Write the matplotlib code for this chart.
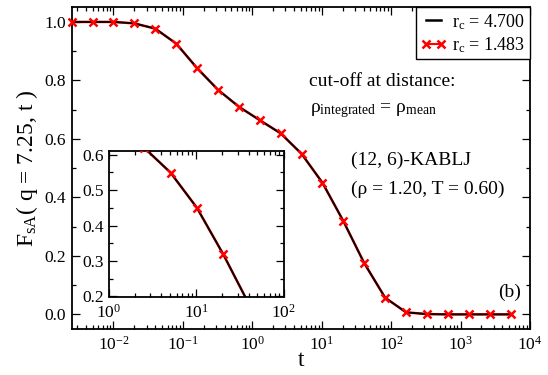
import numpy as np
import matplotlib
matplotlib.use("Agg")
import matplotlib.pyplot as plt
from matplotlib.ticker import LogLocator, MultipleLocator, NullFormatter, FixedLocator
from matplotlib.lines import Line2D

plt.rcParams['font.family'] = ['Liberation Serif', 'DejaVu Serif']
plt.rcParams['mathtext.fontset'] = 'custom'
plt.rcParams['mathtext.rm'] = 'Liberation Serif'
plt.rcParams['mathtext.it'] = 'Liberation Serif'
plt.rcParams['mathtext.default'] = 'regular'

# data
t_vals = [0.0025, 0.005, 0.01, 0.02, 0.04, 0.08, 0.16, 0.32, 0.64, 1.28, 2.56,
          5.12, 10.24, 20.48, 40.96, 81.92, 163.84, 327.68, 655.36, 1310.72,
          2621.44, 5242.88]
fs_rc4700 = [1.0, 1.0, 1.0, 0.995, 0.977, 0.926, 0.842, 0.768, 0.710, 0.664,
             0.619, 0.549, 0.450, 0.319, 0.175, 0.057, 0.007, 0.001, 0.0, 0.0,
             0.0, 0.0]
fs_rc1483 = [1.0, 1.0, 1.0, 0.995, 0.977, 0.926, 0.842, 0.768, 0.710, 0.664,
             0.619, 0.549, 0.450, 0.319, 0.175, 0.057, 0.007, 0.001, 0.0, 0.0,
             0.0, 0.0]
legend_labels = ["r$_c$ = 4.700", "r$_c$ = 1.483"]
xtick_vals = [1e-2, 1e-1, 1e0, 1e1, 1e2, 1e3, 1e4]
xtick_labels = ["$10^{-2}$", "$10^{-1}$", "$10^{0}$", "$10^{1}$", "$10^{2}$",
                "$10^{3}$", "$10^{4}$"]
inset_xticks = [1e0, 1e1, 1e2]
inset_xlabels = ["$10^{0}$", "$10^{1}$", "$10^{2}$"]

W, H = 548, 375
fig = plt.figure(figsize=(W / 100, H / 100), dpi=100)

ax = fig.add_axes([71.7 / W, 1 - 329 / H, (530 - 71.7) / W, (329 - 7.3) / H])


def style_axis(a, tick_fs):
    for s in a.spines.values():
        s.set_linewidth(1.3)
    a.tick_params(which='both', direction='in', top=True, right=True,
                  labelsize=tick_fs, width=0.9)
    a.tick_params(which='major', length=5.5)
    a.tick_params(which='minor', length=3)


red_kw = dict(color='red', lw=1.5, marker='x', ms=5.5, mew=1.8)

ax.plot(t_vals, fs_rc1483, color='red', lw=1.8, zorder=2)
ax.plot(t_vals, fs_rc4700, color='black', lw=1.3, zorder=3)
ax.plot(t_vals, fs_rc1483, ls='none', marker='x', color='red', ms=5.5, mew=1.8,
        zorder=4, clip_on=False)

ax.set_xscale('log')
ax.set_xlim(0.0025, 1e4)
ax.set_ylim(-0.05, 1.05)
ax.xaxis.set_major_locator(FixedLocator(xtick_vals))
ax.set_xticklabels(xtick_labels)
ax.xaxis.set_minor_locator(LogLocator(base=10, subs=np.arange(2, 10), numticks=20))
ax.xaxis.set_minor_formatter(NullFormatter())
ax.yaxis.set_major_locator(MultipleLocator(0.2))
ax.yaxis.set_minor_locator(MultipleLocator(0.1))
ax.set_yticks([0.0, 0.2, 0.4, 0.6, 0.8, 1.0])
ax.set_yticklabels(["0.0", "0.2", "0.4", "0.6", "0.8", "1.0"])
style_axis(ax, 12.5)
ax.tick_params(axis='x', pad=5)
ax.tick_params(axis='y', pad=4)

ax.set_xlabel("t", fontsize=17, labelpad=-3)
ax.set_ylabel("F$_{sA}$( q = 7.25, t )", fontsize=17, labelpad=3)

h1 = Line2D([], [], color='black', lw=1.8)
h2 = Line2D([], [], **red_kw)
leg = ax.legend([h1, h2], legend_labels, loc='upper right', borderaxespad=0,
                fontsize=13, numpoints=2, handlelength=1.4, handletextpad=0.35,
                labelspacing=0.2, borderpad=0.25, fancybox=False, framealpha=1,
                edgecolor='black')
leg.get_frame().set_linewidth(1.0)


def fx(px):
    return px / W


def fy(py):
    return 1 - py / H


fig.text(fx(309), fy(82), "cut-off at distance:", fontsize=14, va='center', ha='left')
fig.text(fx(310), fy(111), "ρ$_{integrated}$ = ρ$_{mean}$", fontsize=14, va='center', ha='left')
fig.text(fx(351), fy(160), "(12, 6)-KABLJ", fontsize=14, va='center', ha='left')
fig.text(fx(351), fy(189), "(ρ = 1.20, T = 0.60)", fontsize=14, va='center', ha='left')
fig.text(fx(509.5), fy(292), "(b)", fontsize=14, va='center', ha='center')

# inset
axi = fig.add_axes([108.5 / W, 1 - 296.5 / H, 175 / W, 145.5 / H])
axi.plot(t_vals, fs_rc1483, color='red', lw=1.8, zorder=2)
axi.plot(t_vals, fs_rc4700, color='black', lw=1.3, zorder=3)
axi.plot(t_vals, fs_rc1483, ls='none', marker='x', color='red', ms=5.5, mew=1.8, zorder=4)
axi.set_xscale('log')
axi.set_xlim(1, 100)
axi.set_ylim(0.2, 0.61)
axi.xaxis.set_major_locator(FixedLocator(inset_xticks))
axi.set_xticklabels(inset_xlabels)
axi.xaxis.set_minor_locator(LogLocator(base=10, subs=np.arange(2, 10), numticks=20))
axi.xaxis.set_minor_formatter(NullFormatter())
axi.set_yticks([0.2, 0.3, 0.4, 0.5, 0.6])
axi.set_yticklabels(["0.2", "0.3", "0.4", "0.5", "0.6"])
axi.yaxis.set_minor_locator(MultipleLocator(0.05))
style_axis(axi, 12.5)
axi.tick_params(axis='x', pad=5)
axi.tick_params(axis='y', pad=3)

fig.savefig("out.png", dpi=100)
